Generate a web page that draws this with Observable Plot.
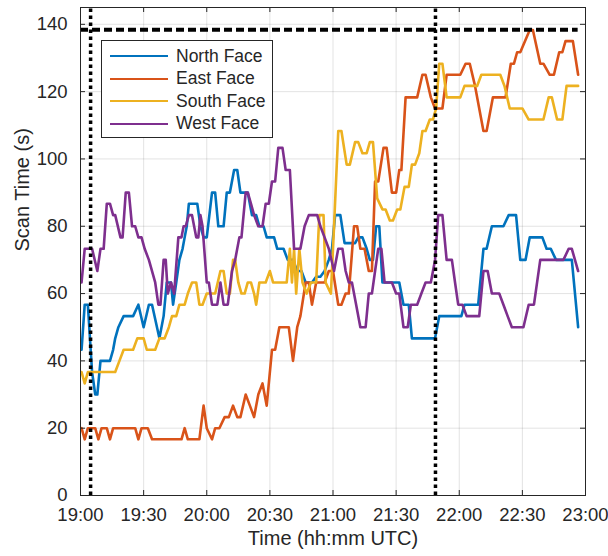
<!DOCTYPE html>
<html>
<head>
<meta charset="utf-8">
<script src="https://cdn.jsdelivr.net/npm/d3@7"></script>
<script src="https://cdn.jsdelivr.net/npm/@observablehq/plot@0.6"></script>
<style>
  body { margin: 0; background: #fff; }
  #wrap { position: relative; width: 608px; height: 556px; font-family: "Liberation Sans", Arial, sans-serif; }
  .legend { position: absolute; left: 101px; top: 40px; width: 172px; height: 98px; box-sizing: border-box;
            border: 1px solid #262626; background: #fff; color: #262626; font-size: 17.5px; }
  .legend .row { position: absolute; left: 0; height: 22px; display: flex; align-items: center; }
  .legend .sw { width: 58px; height: 0; border-top: 2.5px solid; margin-left: 8px; margin-right: 8px; }
</style>
</head>
<body>
<div id="wrap"></div>
<script>
// ---- data (minutes after 19:00 UTC, scan time in s) ----
const xTicks = [0, 30, 60, 90, 120, 150, 180, 210, 240];
const xTickLabels = ["19:00", "19:30", "20:00", "20:30", "21:00", "21:30", "22:00", "22:30", "23:00"];
const yTicks = [0, 20, 40, 60, 80, 100, 120, 140];
const seriesNames = ["North Face", "East Face", "South Face", "West Face"];
const seriesColors = ["#0072BD", "#D95319", "#EDB120", "#7E2F8E"];
const eventTimes = [4.8, 168.7];   // vertical dotted markers
const scanLimit = 138.4;           // horizontal dashed reference

const northFace = [[0.5,43.3],[2,56.7],[3.5,56.7],[5.5,36.7],[7,30],[8,30],[9.5,40],[14,40],[15.5,43.3],[16.5,46.7],[18,50],[20.5,53.3],[25,53.3],[27.5,56.7],[30,50],[32.5,56.7],[34,56.7],[37.5,46.7],[39.5,53.3],[41,63.3],[43,63.3],[44,56.7],[45.5,63.3],[47,70],[48.5,73.3],[49.5,76.7],[50.5,80],[51.5,86.7],[55.5,86.7],[57,80],[58.5,76.7],[60,76.7],[62.5,90],[64,90],[65.5,80],[68,80],[69.5,90],[71,90],[73,96.7],[74.5,96.7],[76,90],[79.5,90],[81.5,83.3],[83.5,83.3],[85,80],[87,80],[88.5,76.7],[92,76.7],[93.5,73.3],[96.5,73.3],[98.5,70],[101,70],[103,66.7],[105,66.7],[107,63.3],[110,63.3],[112,65],[114,65],[116,66.7],[118,70],[119.5,73.3],[121,83.3],[123.5,83.3],[125.5,75],[130.5,75],[132,76.7],[134,76.7],[136,73.3],[137.5,70],[139,70],[140.5,80],[142,80],[143.5,63.3],[151.5,63.3],[153.5,56.7],[156,56.7],[157.5,46.7],[168.5,46.7],[170.5,53.3],[181,53.3],[182.5,56.7],[189,56.7],[191.5,73.3],[193,73.3],[195.5,80],[201,80],[203.5,83.3],[207,83.3],[209,70],[211.5,70],[213.5,76.7],[219.5,76.7],[221.5,73.3],[223.5,73.3],[226,70],[233.5,70],[236.5,50]];

const eastFace = [[0.5,20],[2,16.7],[3.5,20],[7,20],[8.5,16.7],[10,20],[12.5,20],[14,16.7],[15.5,20],[26,20],[27.5,16.7],[29,20],[32,20],[34,16.7],[48,16.7],[49.5,20],[51,16.7],[56.5,16.7],[58.5,26.7],[60,20],[62.5,16.7],[64,20],[66,20],[68.5,23.3],[70.5,23.3],[72.5,26.7],[74.5,23.3],[76,23.3],[78.5,30],[80.5,26.7],[82.5,23.3],[84.5,30],[86.5,33.3],[88.5,26.7],[91,43.3],[92.5,43.3],[94.5,50],[99,50],[101,40],[103,50],[104.5,53.3],[107,63.3],[108.5,63.3],[110,56.7],[112,63.3],[116,63.3],[118,66.7],[120,66.7],[122.5,56.7],[124,56.7],[126,60],[127.5,60],[130,80],[131.5,80],[133,73.3],[135,73.3],[137,66.7],[138.5,66.7],[140,93.3],[141.5,93.3],[144,103.3],[145.5,103.3],[148,90],[150,90],[151.5,96.7],[152.5,96.7],[154.5,118.3],[160,118.3],[162.5,125],[164,125],[166.5,118.3],[168.5,115],[172,115],[174,125],[180.5,125],[183,128.3],[185,128.3],[187.5,121.7],[191.5,108.3],[193,108.3],[196,118.3],[202,118.3],[204.5,128.3],[206,128.3],[207.5,131.7],[209,131.7],[213.5,138.3],[215,138.3],[218.5,128.3],[220,128.3],[223,125],[225,125],[227.5,131.7],[229,131.7],[230.5,135],[234,135],[236.5,125]];

const southFace = [[0.5,36.7],[2,33.3],[3.5,36.7],[16.5,36.7],[18.5,40],[20.5,43.3],[25,43.3],[27,46.7],[30,46.7],[31.5,43.3],[35.5,43.3],[37.5,46.7],[40,46.7],[42,50],[43.5,53.3],[45.5,53.3],[47,56.7],[49.5,56.7],[51,60],[53,63.3],[55,63.3],[56.5,56.7],[58,56.7],[60,60],[64,60],[66.5,66.7],[68,66.7],[69.5,60],[71,60],[72.5,70],[73.5,70],[75,63.3],[76.5,60],[78,60],[79.5,63.3],[81,63.3],[82.5,60],[83.5,56.7],[85,63.3],[88,63.3],[90,66.7],[91.5,63.3],[98,63.3],[99.5,73.3],[100.5,63.3],[101.5,73.3],[102.5,60],[104,73.3],[105.5,63.3],[107.5,60],[109.5,63.3],[112,63.3],[113.5,83.3],[115.5,83.3],[116.5,63.3],[119,60],[120.5,80],[122.5,108.3],[124,108.3],[126.5,98.3],[128,98.3],[130.5,105],[132,105],[134,101.7],[136,101.7],[137.5,105],[139,105],[141,88.3],[143.5,85],[145,85],[147,81.7],[148.5,81.7],[150.5,85],[152,85],[154,91.7],[156,91.7],[157.5,98.3],[159,98.3],[161,101.7],[162.5,108.3],[164,108.3],[166,111.7],[167.5,111.7],[169,115],[170.5,128.3],[172,128.3],[174,118.3],[180.5,118.3],[182.5,121.7],[188.5,121.7],[190.5,125],[199.5,125],[201.5,121.7],[204,115],[210,115],[213,111.7],[220,111.7],[222.5,118.3],[224,118.3],[226.5,111.7],[229,111.7],[231,121.7],[236.5,121.7]];

const westFace = [[0.5,63.3],[2,73.3],[5.5,73.3],[8,66.7],[9.5,73.3],[11,73.3],[12.5,86.7],[14,86.7],[15.5,83.3],[16.5,83.3],[19,76.7],[20,76.7],[21.5,90],[23,90],[24.5,80],[26,80],[27.5,76.7],[29,76.7],[30.5,73.3],[32.5,70],[34,66.7],[35.5,63.3],[37,56.7],[38,56.7],[39.5,70],[40.5,70],[41.5,60],[43,63.3],[44.5,60],[46.5,76.7],[48,76.7],[49,80],[50,80],[51.5,83.3],[53,83.3],[54,80],[55,76.7],[56,76.7],[57,83.3],[58,80],[60,63.3],[61,63.3],[62.5,56.7],[65,56.7],[66.5,63.3],[68,56.7],[70,56.7],[72,66.7],[73.5,70],[75.5,76.7],[76.5,76.7],[78.5,90],[79.5,90],[81,86.7],[82.5,83.3],[84.5,80],[86.5,80],[88,86.7],[89.5,86.7],[91,93.3],[92.5,93.3],[94,103.3],[96,103.3],[97.5,96.7],[99.5,96.7],[101.5,73.3],[104.5,73.3],[106.5,80],[108.5,83.3],[112.5,83.3],[114,80],[116,76.7],[118,73.3],[120.5,66.7],[122.5,73.3],[124.5,73.3],[126,66.7],[127.5,63.3],[129,63.3],[131,56.7],[133,50],[135.5,50],[137,60],[138.5,60],[140,66.7],[141.5,73.3],[143,73.3],[144.5,63.3],[148,63.3],[150,60],[151.5,60],[153.5,50],[155.5,50],[157,56.7],[160,56.7],[162,60],[164,63.3],[166.5,63.3],[168.5,70],[170,83.3],[172,83.3],[174,70],[176.5,70],[178,63.3],[179.5,56.7],[181.5,56.7],[183.5,53.3],[189.5,53.3],[191.5,66.7],[193.5,66.7],[195.5,60],[199,60],[201,56.7],[203,53.3],[205,50],[210.5,50],[213,56.7],[215.5,56.7],[218.5,70],[229.5,70],[232,73.3],[233.5,73.3],[236.5,66.7]];

const seriesData = [northFace, eastFace, southFace, westFace];

// ---- layout ----
const W = 608, H = 556;
const mL = 80, mR = 23, mT = 7, mB = 61;
const xMax = 240, yMax = 145;
const tickPx = 5;
const tickY = tickPx * yMax / (H - mT - mB);
const tickX = tickPx * xMax / (W - mL - mR);
const lastT = d3.max(seriesData, s => s[s.length - 1][0]);
const ink = "#262626";

const lineMarks = seriesData.map((s, i) =>
  Plot.line(s, {x: d => d[0], y: d => d[1], stroke: seriesColors[i], strokeWidth: 2.6, strokeLinejoin: "round", strokeLinecap: "round"}));

const chart = Plot.plot({
  width: W, height: H,
  marginLeft: mL, marginRight: mR, marginTop: mT, marginBottom: mB,
  style: {fontFamily: "'Liberation Sans', Arial, sans-serif", color: ink, background: "#fff", overflow: "visible"},
  x: {domain: [0, xMax]},
  y: {domain: [0, yMax]},
  marks: [
    Plot.gridX(xTicks, {stroke: ink, strokeOpacity: 0.13, strokeWidth: 1}),
    Plot.gridY(yTicks, {stroke: ink, strokeOpacity: 0.13, strokeWidth: 1}),
    ...lineMarks,
    Plot.ruleY([scanLimit], {x1: 0, x2: lastT, stroke: "#000", strokeWidth: 4, strokeDasharray: "8,4"}),
    Plot.ruleX(eventTimes, {y1: 0, y2: yMax, stroke: "#000", strokeWidth: 3.5, strokeDasharray: "3.5,3.5"}),
    // inward ticks (box on)
    Plot.ruleX(xTicks, {y1: 0, y2: tickY, stroke: ink}),
    Plot.ruleX(xTicks, {y1: yMax - tickY, y2: yMax, stroke: ink}),
    Plot.ruleY(yTicks, {x1: 0, x2: tickX, stroke: ink}),
    Plot.ruleY(yTicks, {x1: xMax - tickX, x2: xMax, stroke: ink}),
    Plot.frame({stroke: ink, strokeWidth: 1}),
    Plot.axisX(xTicks, {anchor: "bottom", tickSize: 0, tickPadding: 12, label: null, fontSize: 18.5,
      tickFormat: d => xTickLabels[xTicks.indexOf(d)]}),
    Plot.axisY(yTicks, {anchor: "left", tickSize: 0, tickPadding: 13, label: null, fontSize: 18.5}),
    Plot.text(["Time (hh:mm UTC)"], {frameAnchor: "bottom", dy: 49, fontSize: 20, fill: ink}),
    Plot.text(["Scan Time (s)"], {frameAnchor: "left", dx: -58, rotate: -90, fontSize: 20, fill: ink})
  ]
});

const wrap = document.getElementById("wrap");
wrap.appendChild(chart);

// legend (inside the axes, top-left)
const legend = document.createElement("div");
legend.className = "legend";
seriesNames.forEach((name, i) => {
  const row = document.createElement("div");
  row.className = "row";
  row.style.top = (4 + i * 22.5) + "px";
  const sw = document.createElement("span");
  sw.className = "sw";
  sw.style.borderTopColor = seriesColors[i];
  const label = document.createElement("span");
  label.textContent = name;
  row.appendChild(sw);
  row.appendChild(label);
  legend.appendChild(row);
});
wrap.appendChild(legend);
</script>
</body>
</html>
